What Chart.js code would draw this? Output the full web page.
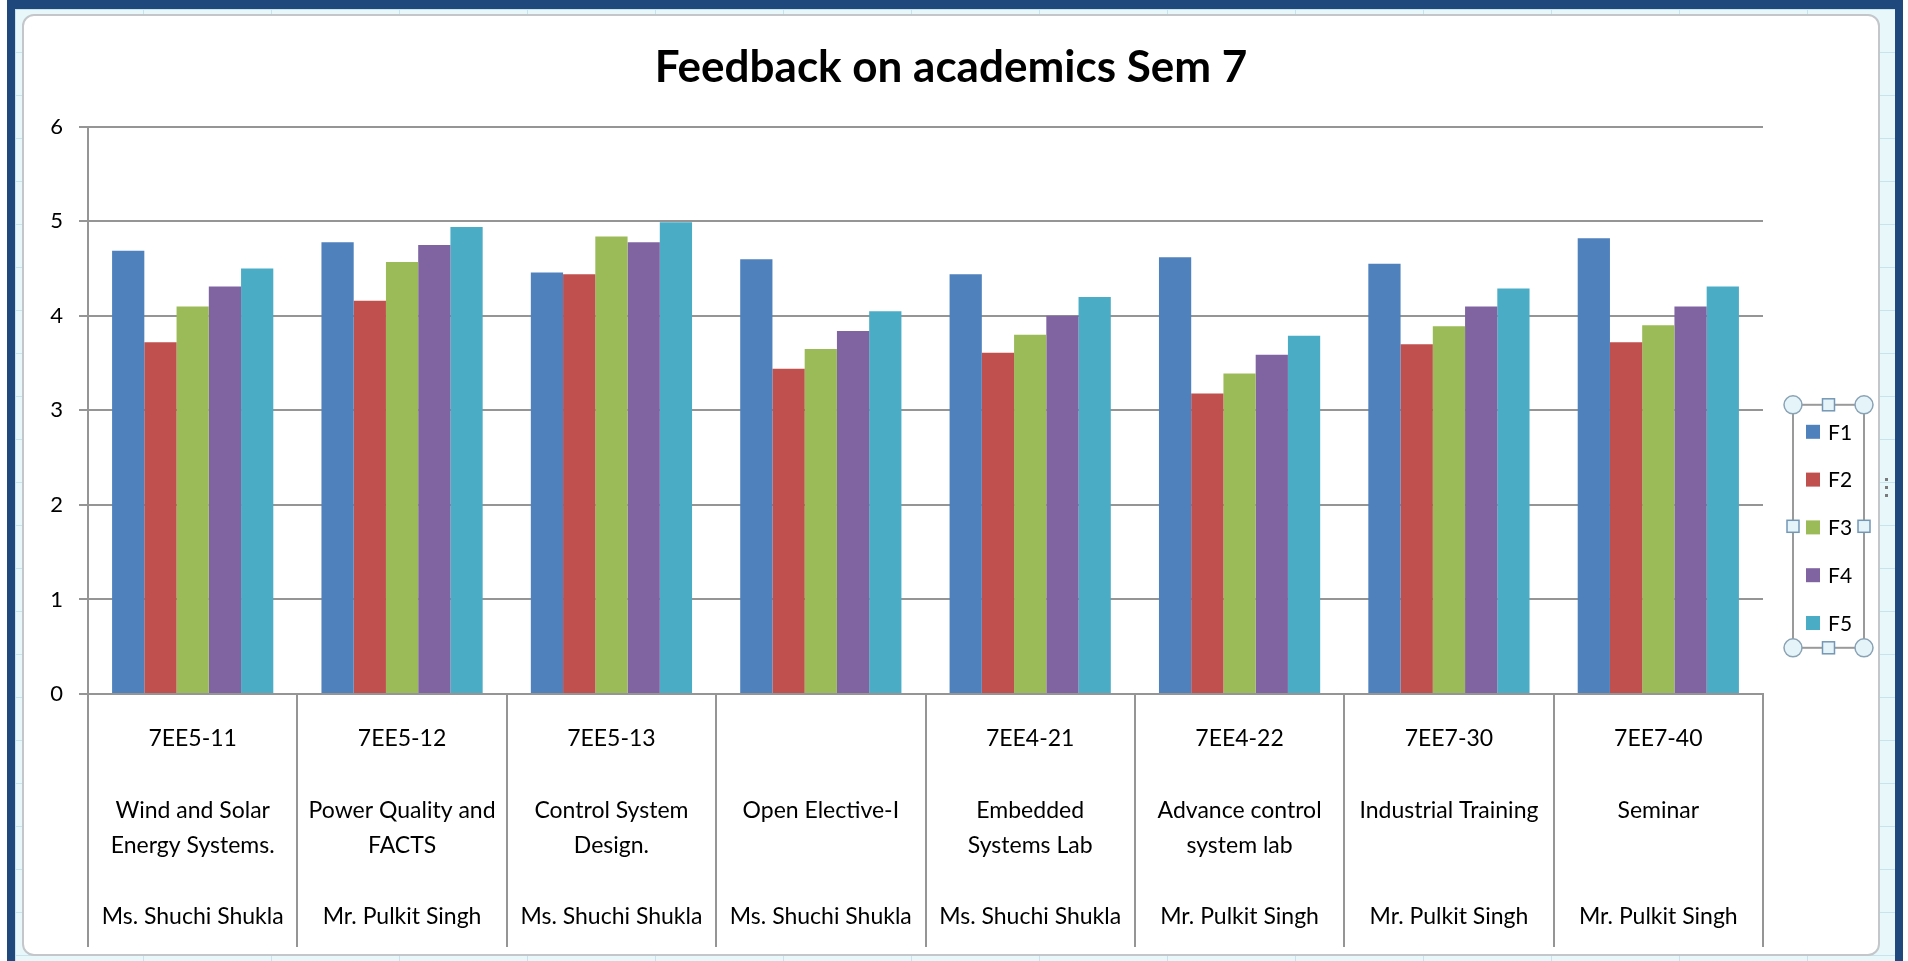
<!DOCTYPE html>
<html>
<head>
<meta charset="utf-8">
<title>Feedback on academics Sem 7</title>
<script src="https://cdn.jsdelivr.net/npm/chart.js@4"></script>
<style>
  html, body { margin: 0; padding: 0; background: #fff; overflow: hidden; }
  #frame {
    position: absolute; left: 7px; top: 0; width: 1880px; height: 953px;
    border: 8px solid #1f497d; border-top-width: 9px;
    background-color: #e8f7fa;
    background-image:
      linear-gradient(#c9e3ea 1px, transparent 1px),
      linear-gradient(90deg, #c9e3ea 1px, transparent 1px);
    background-size: 128px 43px;
  }
  #card {
    position: absolute; left: 22px; top: 14px; width: 1854px; height: 938px;
    border: 2px solid #c3c7ca; border-radius: 12px; background: #fff;
  }
  #grip { position: absolute; left: 1885px; top: 478px; width: 3px; height: 24px;
    background-image: linear-gradient(#7a7a7a 3px, transparent 3px); background-size: 3px 8px; }
</style>
</head>
<body>
<div id="frame"></div>
<div id="card"><canvas id="myChart"></canvas></div>
<div id="grip"></div>
<script>
const codes = ['7EE5-11', '7EE5-12', '7EE5-13', '', '7EE4-21', '7EE4-22', '7EE7-30', '7EE7-40'];
const subjects = [
    ['Wind and Solar', 'Energy Systems.'],
    ['Power Quality and', 'FACTS'],
    ['Control System', 'Design.'],
    ['Open Elective-I', ''],
    ['Embedded', 'Systems Lab'],
    ['Advance control', 'system lab'],
    ['Industrial Training', ''],
    ['Seminar', '']
];
const teachers = ['Ms. Shuchi Shukla', 'Mr. Pulkit Singh', 'Ms. Shuchi Shukla', 'Ms. Shuchi Shukla',
    'Ms. Shuchi Shukla', 'Mr. Pulkit Singh', 'Mr. Pulkit Singh', 'Mr. Pulkit Singh'];

const seriesNames = ['F1', 'F2', 'F3', 'F4', 'F5'];
const f1 = [4.69, 4.78, 4.46, 4.60, 4.44, 4.62, 4.55, 4.82];
const f2 = [3.72, 4.16, 4.44, 3.44, 3.61, 3.18, 3.70, 3.72];
const f3 = [4.10, 4.57, 4.84, 3.65, 3.80, 3.39, 3.89, 3.90];
const f4 = [4.31, 4.75, 4.78, 3.84, 4.00, 3.59, 4.10, 4.10];
const f5 = [4.50, 4.94, 4.99, 4.05, 4.20, 3.79, 4.29, 4.31];
const yTicks = [0, 1, 2, 3, 4, 5, 6];

const colors = ['#4f81bd', '#c0504d', '#9bbb59', '#8064a2', '#4bacc6'];
const gridColor = '#959595';
const fontFamily = 'Lato, "Open Sans", sans-serif';

// each category label: code, blank, subject (2 lines), blank, teacher
const labels = codes.map((c, i) => [c, '', subjects[i][0], subjects[i][1], '', teachers[i]]);

const data = {
    labels: labels,
    datasets: [f1, f2, f3, f4, f5].map((vals, i) => ({
        label: seriesNames[i],
        data: vals,
        backgroundColor: colors[i],
        borderWidth: 0,
        categoryPercentage: 0.77,
        barPercentage: 1.0
    }))
};

// vertical separators between the category labels, below the plot
const categoryDividers = {
    id: 'categoryDividers',
    afterDraw(chart) {
        const x = chart.scales.x;
        const n = chart.data.labels.length;
        const c = chart.ctx;
        const y0 = chart.chartArea.bottom;
        c.save();
        c.strokeStyle = gridColor;
        c.lineWidth = 2;
        for (let i = 0; i <= n; i++) {
            const px = Math.round(x.getPixelForValue(i - 0.5));
            c.beginPath();
            c.moveTo(px, y0);
            c.lineTo(px, y0 + 253);
            c.stroke();
        }
        c.restore();
    }
};

// legend in a frame with selection handles, right of the plot
const legendBox = {
    id: 'legendBox',
    afterDraw(chart) {
        const c = chart.ctx;
        const area = chart.chartArea;
        const left = area.right + 30, right = left + 71;
        const top = area.top + 278, bottom = top + 243;
        c.save();
        c.strokeStyle = '#9a9a9a';
        c.lineWidth = 2;
        c.strokeRect(left, top, right - left, bottom - top);

        c.textBaseline = 'middle';
        c.textAlign = 'left';
        c.font = '21px ' + fontFamily;
        chart.data.datasets.forEach((ds, i) => {
            const y = top + 27 + i * 47.8;
            c.fillStyle = ds.backgroundColor;
            c.fillRect(left + 13, y - 7, 14, 14);
            c.fillStyle = '#000';
            c.fillText(ds.label, left + 35, y + 1);
        });

        const midX = (left + right) / 2, midY = (top + bottom) / 2;
        c.lineWidth = 1.5;
        c.strokeStyle = '#8aa2b4';
        c.fillStyle = '#e4f4f9';
        [[left, top], [right, top], [left, bottom], [right, bottom]].forEach(([x, y]) => {
            c.beginPath();
            c.arc(x, y, 9, 0, Math.PI * 2);
            c.fill();
            c.stroke();
        });
        c.strokeStyle = '#7397b5';
        [[midX, top], [midX, bottom], [left, midY], [right, midY]].forEach(([x, y]) => {
            c.fillRect(x - 6, y - 6, 12, 12);
            c.strokeRect(x - 6, y - 6, 12, 12);
        });
        c.restore();
    }
};

const config = {
    type: 'bar',
    data: data,
    options: {
        responsive: true,
        maintainAspectRatio: false,
        devicePixelRatio: 1,
        animation: false,
        layout: {
            padding: { left: 0, right: 0, top: 0, bottom: 22 }
        },
        scales: {
            x: {
                afterFit: (scale) => { scale.height = 238; },
                grid: { display: false },
                border: { color: gridColor, width: 2 },
                ticks: {
                    color: '#000',
                    padding: 19,
                    maxRotation: 0,
                    autoSkip: false,
                    font: { family: fontFamily, size: 23, lineHeight: 1.55 }
                }
            },
            y: {
                min: yTicks[0],
                max: yTicks[yTicks.length - 1],
                afterBuildTicks: (scale) => { scale.ticks = yTicks.map(v => ({ value: v })); },
                afterFit: (scale) => { scale.width = 64; },
                grid: { color: gridColor, lineWidth: 2, tickLength: 9 },
                border: { color: gridColor, width: 2 },
                ticks: {
                    color: '#000',
                    padding: 16,
                    font: { family: fontFamily, size: 22 }
                }
            },
            // empty strip on the right that holds the legend
            side: {
                position: 'right',
                display: true,
                afterFit: (scale) => { scale.width = 115; },
                grid: { display: false },
                border: { display: false },
                ticks: { display: false }
            }
        },
        plugins: {
            legend: { display: false },
            tooltip: { enabled: false },
            title: {
                display: true,
                text: 'Feedback on academics Sem 7',
                color: '#000',
                font: { family: fontFamily, size: 44, weight: 'bold', lineHeight: 1.2 },
                padding: { top: 25, bottom: 33 }
            }
        }
    },
    plugins: [categoryDividers, legendBox]
};

const myChart = new Chart(document.getElementById('myChart'), config);
</script>
</body>
</html>
